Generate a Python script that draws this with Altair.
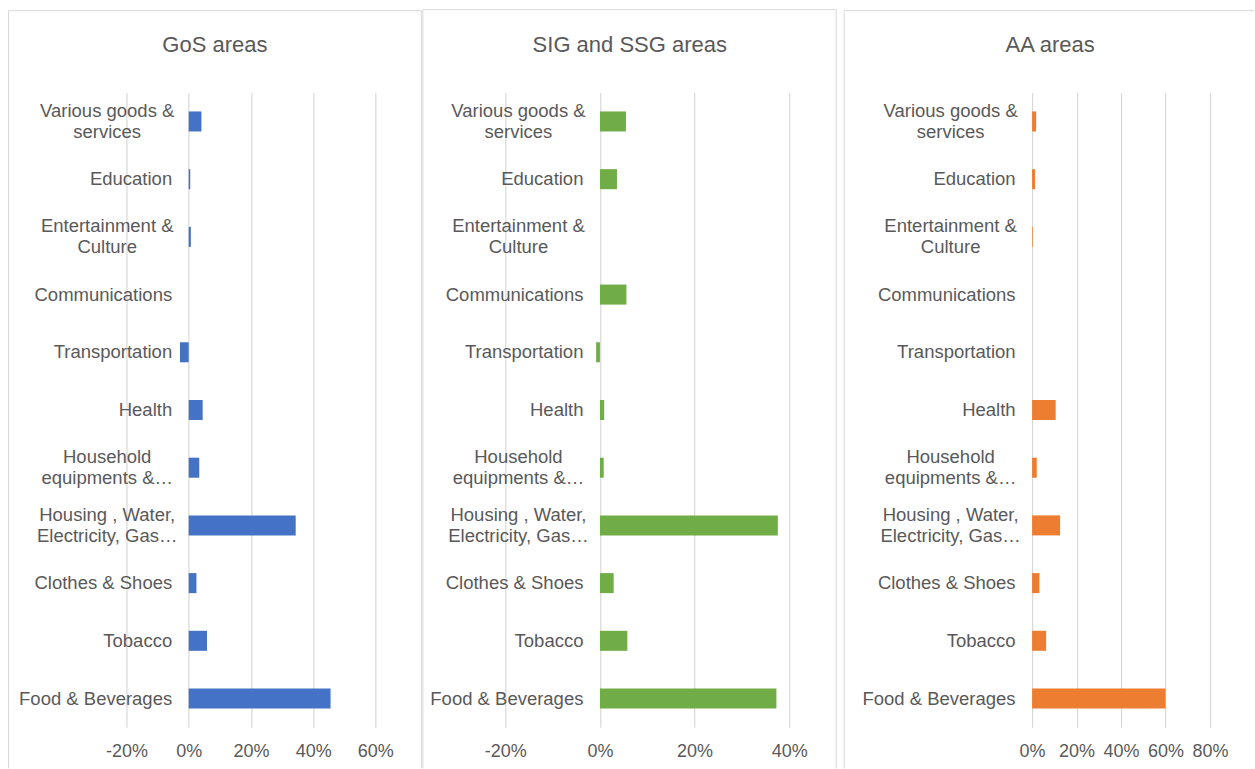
import altair as alt
import pandas as pd

# Spending categories, listed top to bottom
categories = [
    "Various goods &\nservices",
    "Education",
    "Entertainment &\nCulture",
    "Communications",
    "Transportation",
    "Health",
    "Household\nequipments &…",
    "Housing , Water,\nElectricity, Gas…",
    "Clothes & Shoes",
    "Tobacco",
    "Food & Beverages",
]

# Share of each category, per area type
gos_share = [0.041, 0.005, 0.007, 0.0, -0.028, 0.045, 0.034, 0.344, 0.025, 0.059, 0.456]
sig_share = [0.055, 0.036, 0.0, 0.056, -0.008, 0.009, 0.008, 0.376, 0.029, 0.058, 0.373]
aa_share = [0.018, 0.013, 0.003, 0.0, 0.0, 0.106, 0.021, 0.126, 0.033, 0.063, 0.600]

panel_titles = ["GoS areas", "SIG and SSG areas", "AA areas"]
gos_ticks = [-0.2, 0.0, 0.2, 0.4, 0.6]
sig_ticks = [-0.2, 0.0, 0.2, 0.4]
aa_ticks = [0.0, 0.2, 0.4, 0.6, 0.8]

# Styling
TEXT = "#595959"
GRID = "#d9d9d9"
FONT = "Liberation Sans"
PLOT_H = 635
FRAME_BOTTOM = 676
SPACING = 130
LINE_H = 21
MULTILINE = "indexof(datum.value, '\\n') >= 0"


def panel(title, values, ticks, color, grid_width, extra, frame, title_center):
    """One framed panel; the view spans the tick range plus `extra` px of blank space on the right."""
    df = pd.DataFrame({"category": categories, "share": values})
    lo, hi = ticks[0], ticks[-1]
    px_per_unit = grid_width / (hi - lo)
    width = grid_width + extra
    domain_hi = hi + extra / px_per_unit
    zero_px = -lo * px_per_unit
    single_pad = -(zero_px - 17)
    multi_pad = -(zero_px - 82)

    left, right, top, top_end = frame
    title_offset = (top - 0.5) + 19

    bars = alt.Chart(df).mark_bar(color=color).encode(
        x=alt.X(
            "share:Q",
            title=None,
            scale=alt.Scale(domain=[lo, domain_hi], nice=False),
            axis=alt.Axis(
                values=ticks,
                labelExpr="(datum.value < 0 ? '-' : '') + format(abs(datum.value), '.0%')",
                domain=False,
                ticks=False,
                grid=True,
                gridColor=GRID,
                gridWidth=1.2,
                labelPadding=15,
                labelFlush=False,
                labelOverlap=False,
                labelFontSize=18,
                labelColor=TEXT,
                labelFont=FONT,
            ),
        ),
        y=alt.Y(
            "category:N",
            sort=categories,
            title=None,
            scale=alt.Scale(paddingInner=0.653, paddingOuter=0.3265),
            axis=alt.Axis(
                domain=False,
                ticks=False,
                tickSize=0,
                grid=False,
                labelExpr="split(datum.label, '\\n')",
                labelAlign={"condition": {"test": MULTILINE, "value": "center"}, "value": "right"},
                labelPadding={"condition": {"test": MULTILINE, "value": multi_pad}, "value": single_pad},
                labelOffset={"condition": {"test": MULTILINE, "value": -LINE_H / 2}, "value": 0},
                labelBaseline="middle",
                labelFontSize=18.5,
                labelLineHeight=LINE_H,
                labelColor=TEXT,
                labelFont=FONT,
                labelLimit=300,
            ),
        ),
    )

    one = pd.DataFrame({"n": [0]})
    edges = [
        alt.Chart(one).mark_rule(color=GRID, strokeWidth=1).encode(
            x=alt.value(left), y=alt.value(top), y2=alt.value(FRAME_BOTTOM)
        ),
        alt.Chart(one).mark_rule(color=GRID, strokeWidth=1).encode(
            x=alt.value(left), x2=alt.value(top_end), y=alt.value(top)
        ),
    ]
    if right is not None:
        edges.append(
            alt.Chart(one).mark_rule(color=GRID, strokeWidth=1).encode(
                x=alt.value(right), y=alt.value(top), y2=alt.value(FRAME_BOTTOM)
            )
        )

    return alt.layer(*edges, bars).properties(
        width=width,
        height=PLOT_H,
        title=alt.TitleParams(
            text=title,
            anchor="start",
            frame="group",
            align="center",
            baseline="alphabetic",
            dx=title_center,
            offset=title_offset,
            fontSize=22,
            fontWeight="normal",
            color=TEXT,
            font=FONT,
        ),
    )


p1 = panel(panel_titles[0], gos_share, gos_ticks, "#4472C4", 249, 0, (-118, 295, -82, 295), 88.5)
p2 = panel(panel_titles[1], sig_share, sig_ticks, "#70AD47", 284, 113, (-82.5, 331, -83, 331), 124.5)
p3 = panel(panel_titles[2], aa_share, aa_ticks, "#ED7D31", 178, 0, (-188, None, -82, 222), 18)

chart = (
    alt.hconcat(p1, p2, p3, spacing=SPACING, bounds="flush")
    .properties(padding={"left": 7.5, "top": 8.5, "right": 0, "bottom": 0}, background="white")
    .configure_view(stroke=None)
)

chart.save("out.html", embed_options={"renderer": "svg", "actions": False})
